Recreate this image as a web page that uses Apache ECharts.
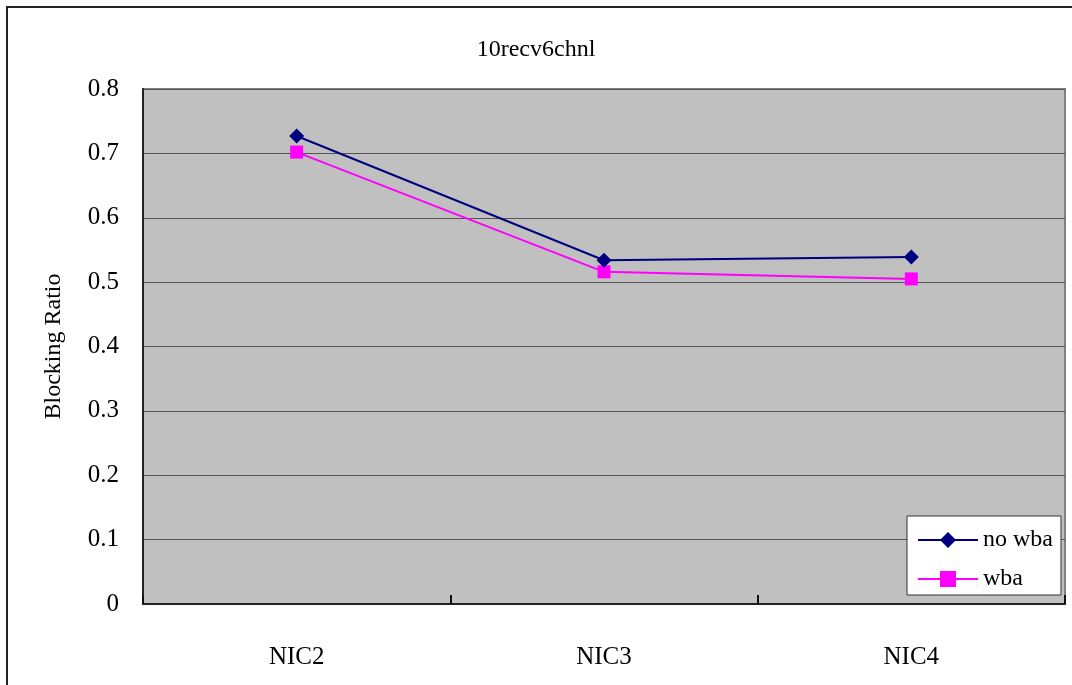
<!DOCTYPE html>
<html lang="en">
<head>
    <meta charset="UTF-8">
    <title>10recv6chnl</title>
    <script src="https://cdn.jsdelivr.net/npm/echarts@6/dist/echarts.min.js"></script>
    <style>
        body { margin: 0; background: #fff; }
    </style>
</head>
<body>
<div id="main" style="width: 1072px;height:685px;"></div>
<script>
    var categories = ['NIC2', 'NIC3', 'NIC4'];
    var noWba = [0.727, 0.534, 0.539];
    var wba = [0.702, 0.516, 0.505];
    var seriesNames = ['no wba', 'wba'];

    var font = 'Liberation Serif';
    var myChart = echarts.init(document.getElementById('main'));

    var option = {
        backgroundColor: '#fff',
        animation: false,
        title: {
            text: '10recv6chnl',
            left: 'center',
            top: 33,
            textStyle: { fontFamily: font, fontSize: 24, fontWeight: 'normal', color: '#000' }
        },
        graphic: [{
            type: 'rect',
            shape: { x: 7, y: 7, width: 1100, height: 700 },
            style: { fill: 'none', stroke: '#222', lineWidth: 2 },
            silent: true
        }],
        legend: {
            data: seriesNames,
            orient: 'vertical',
            left: 907,
            top: 516,
            width: 156,
            padding: [12, 8, 4, 10],
            itemWidth: 60,
            itemHeight: 20,
            itemGap: 15,
            backgroundColor: '#fff',
            borderColor: '#333',
            borderWidth: 1,
            lineStyle: { width: 2 },
            textStyle: { fontFamily: font, fontSize: 24, color: '#000' }
        },
        grid: {
            left: 143,
            right: 7,
            top: 89,
            bottom: 81,
            show: true,
            backgroundColor: '#c0c0c0',
            borderColor: '#808080',
            borderWidth: 2
        },
        xAxis: {
            type: 'category',
            data: categories,
            boundaryGap: true,
            axisLine: { lineStyle: { color: '#222', width: 2 } },
            axisTick: {
                show: true,
                inside: true,
                alignWithLabel: false,
                interval: 0,
                length: 9,
                lineStyle: { color: '#111', width: 2 }
            },
            axisLabel: { margin: 41, fontFamily: font, fontSize: 25, color: '#000' },
            splitLine: { show: false }
        },
        yAxis: {
            type: 'value',
            min: 0,
            max: 0.8,
            interval: 0.1,
            name: 'Blocking Ratio',
            nameLocation: 'middle',
            nameRotate: 90,
            nameGap: 77,
            nameTextStyle: { fontFamily: font, fontSize: 24, color: '#000' },
            axisLine: { show: true, lineStyle: { color: '#222', width: 2 } },
            axisTick: { show: false },
            axisLabel: {
                margin: 24,
                fontFamily: font,
                fontSize: 25,
                color: '#000',
                formatter: function (v) { return v === 0 ? '0' : v.toFixed(1); }
            },
            splitLine: { show: true, lineStyle: { color: '#555', width: 1 } }
        },
        series: [{
            name: seriesNames[0],
            type: 'line',
            data: noWba,
            symbol: 'diamond',
            symbolSize: 15,
            itemStyle: { color: '#000080' },
            lineStyle: { color: '#000080', width: 2 },
            z: 3
        }, {
            name: seriesNames[1],
            type: 'line',
            data: wba,
            symbol: 'rect',
            symbolSize: 13,
            itemStyle: { color: '#ff00ff' },
            lineStyle: { color: '#ff00ff', width: 2 },
            z: 2
        }]
    };
    myChart.setOption(option);
</script>
</body>
</html>
